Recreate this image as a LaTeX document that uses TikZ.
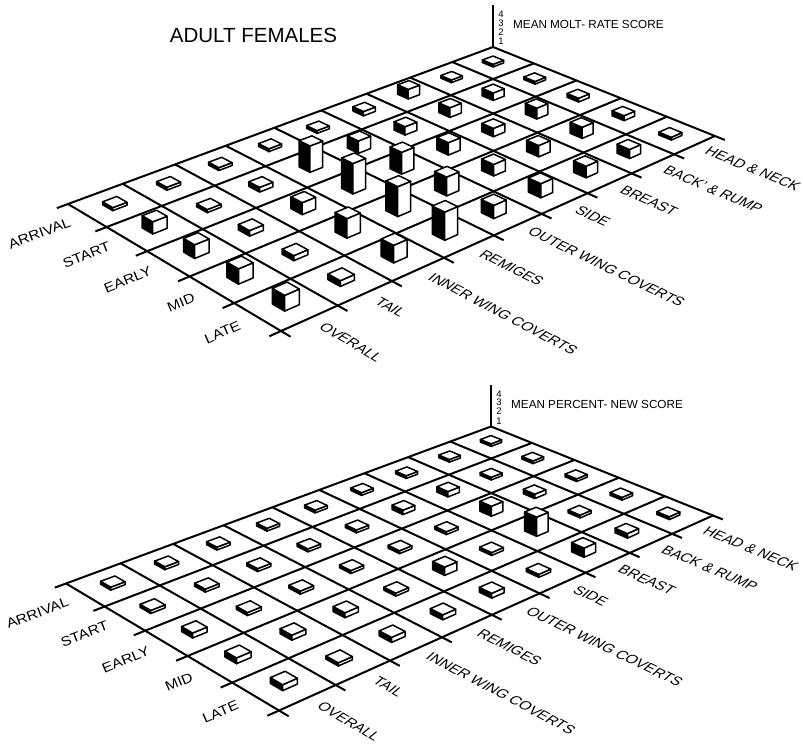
\documentclass[tikz,border=0pt]{standalone}
\usepackage{fontspec}
\setmainfont{Liberation Sans}
\usetikzlibrary{calc}

% grid corners in units of 100px, y pointing down
\def\Bx{4.93}\def\By{0.47}% back: head & neck / arrival
\def\Lx{0.68}\def\Ly{2.04}% left: overall / arrival
\def\Fx{2.81}\def\Fy{3.31}% front: overall / late
\def\Rx{7.15}\def\Ry{1.36}% right: head & neck / late

% perspective map of the unit square onto the grid
\pgfmathsetmacro\dxa{\Lx-\Fx}
\pgfmathsetmacro\dxb{\Rx-\Fx}
\pgfmathsetmacro\dxc{\Bx-\Lx+\Fx-\Rx}
\pgfmathsetmacro\dya{\Ly-\Fy}
\pgfmathsetmacro\dyb{\Ry-\Fy}
\pgfmathsetmacro\dyc{\By-\Ly+\Fy-\Ry}
\pgfmathsetmacro\hmden{\dxa*\dyb-\dya*\dxb}
\pgfmathsetmacro\hmG{(\dxc*\dyb-\dyc*\dxb)/\hmden}
\pgfmathsetmacro\hmH{(\dxa*\dyc-\dya*\dxc)/\hmden}
\pgfmathsetmacro\hmA{\Lx-\Bx+\hmG*\Lx}
\pgfmathsetmacro\hmB{\Rx-\Bx+\hmH*\Rx}
\pgfmathsetmacro\hmD{\Ly-\By+\hmG*\Ly}
\pgfmathsetmacro\hmE{\Ry-\By+\hmH*\Ry}

\def\bs{0.13}% half size of a bar base

\tikzset{
  gridline/.style={line width=2pt},
  barface/.style={line width=1.5pt, line join=round, fill=white},
  rowlabel/.style={anchor=east, inner sep=0pt, xscale=1.15, font=\fontsize{13.5}{14}\selectfont},
  collabel/.style={anchor=west, inner sep=0pt, xscale=1.08, xslant=0.35, font=\fontsize{13.5}{14}\selectfont},
  axislabel/.style={anchor=west, inner sep=0pt, font=\fontsize{11.7}{13}\selectfont},
  axisdigit/.style={inner sep=0pt, font=\fontsize{9.5}{10}\selectfont}
}

% point of the grid: name, column u (0..9), row v (0..5), height in px
\newcommand\gridpt[4]{%
  \pgfmathsetmacro\gpu{(#2)/9}%
  \pgfmathsetmacro\gpv{(#3)/5}%
  \pgfmathsetmacro\gpw{1+\hmG*\gpu+\hmH*\gpv}%
  \pgfmathsetmacro\gpx{(\hmA*\gpu+\hmB*\gpv+\Bx)/\gpw}%
  \pgfmathsetmacro\gpy{(\hmD*\gpu+\hmE*\gpv+\By-(#4)/100)/\gpw}%
  \coordinate (#1) at (\gpx,\gpy);%
}

% one bar: column, row, height
\newcommand\moltbar[3]{%
  \gridpt{ba}{#1-0.5+\bs}{#2-0.5-\bs}{0}
  \gridpt{bb}{#1-0.5+\bs}{#2-0.5+\bs}{0}
  \gridpt{bc}{#1-0.5-\bs}{#2-0.5+\bs}{0}
  \gridpt{ta}{#1-0.5+\bs}{#2-0.5-\bs}{#3}
  \gridpt{tb}{#1-0.5+\bs}{#2-0.5+\bs}{#3}
  \gridpt{tc}{#1-0.5-\bs}{#2-0.5+\bs}{#3}
  \gridpt{td}{#1-0.5-\bs}{#2-0.5-\bs}{#3}
  \draw[barface, fill=black] (ba) -- (bb) -- (tb) -- (ta) -- cycle;
  \draw[barface] (bb) -- (bc) -- (tc) -- (tb) -- cycle;
  \draw[barface] (ta) -- (tb) -- (tc) -- (td) -- cycle;
}

% whole chart: axis title, back & rump label, heights per column
\newcommand\moltchart[3]{%
  % grid with ticks on the front edges
  \foreach \rw in {0,...,5}{
    \gridpt{ra}{0}{\rw}{0}
    \gridpt{rb}{9.2}{\rw}{0}
    \draw[gridline] (ra) -- (rb);
  }
  \foreach \col in {0,...,9}{
    \gridpt{ca}{\col}{0}{0}
    \gridpt{cb}{\col}{5.2}{0}
    \draw[gridline] (ca) -- (cb);
  }
  % score axis
  \gridpt{axbase}{0}{0}{0}
  \gridpt{axtop}{0}{0}{42}
  \draw[gridline] (axbase) -- (axtop);
  \foreach \d/\dz in {1/5.5,2/15,3/24,4/32.5}
    \node[axisdigit] at ($(axbase)+(0.08,-\dz/100)$) {\d};
  \node[axislabel] (axtitle) at ($(axbase)+(0.2,-0.225)$) {#1};
  % labels
  \foreach \txt [count=\rw] in {ARRIVAL,START,EARLY,MID,LATE}{
    \gridpt{la}{0}{\rw-0.5}{0}
    \gridpt{lb}{9.3}{\rw-0.5}{0}
    \path let \p1=($(la)-(lb)$), \n1={atan2(\y1,\x1)} in
      node[rotate=\n1, rowlabel] at (lb) {\txt};
  }
  \foreach \txt [count=\col] in {HEAD \& NECK,#2,BREAST,SIDE,OUTER WING COVERTS,REMIGES,INNER WING COVERTS,TAIL,OVERALL}{
    \gridpt{la}{\col-0.5}{0}{0}
    \gridpt{lb}{\col-0.5}{5.25}{0}
    \path let \p1=($(lb)-(la)$), \n1={atan2(\y1,\x1)} in
      node[rotate=\n1, collabel] at (lb) {\txt};
  }
  % bars, back to front
  \foreach \col/\hts in {#3}{
    \foreach \h [count=\rw] in \hts {\moltbar{\col}{\rw}{\h}}
  }
}

\begin{document}
\begin{tikzpicture}[x=100pt,y=-100pt]
\useasboundingbox (0,0) rectangle (8.03,7.5);

\node[font=\fontsize{20.5}{24}\selectfont] (title) at (2.535,0.355) {ADULT FEMALES};

% molt rate
\moltchart{MEAN MOLT- RATE SCORE}{BACK' \& RUMP}{%
  1/{2.5,2.5,3.5,4.5,2.5}, 2/{2.5,7,10,10,8}, 3/{9,9,7.5,10,10},
  4/{4,7.5,11,10,12}, 5/{2.5,11,19,16,11}, 6/{2.5,23,26,25,23},
  7/{2.5,4,10,16,14}, 8/{2.5,2.5,4.5,4,4.5}, 9/{2.5,10,11,12,12}}

% percent new
\begin{scope}[shift={(-0.02,3.795)}]
\moltchart{MEAN PERCENT- NEW SCORE}{BACK \& RUMP}{%
  1/{2.5,2.5,2.5,2.5,2.5}, 2/{2.5,2.5,4,2.5,4}, 3/{2.5,5,9,17,8},
  4/{2.5,4,2.5,2.5,2.5}, 5/{2.5,2.5,2.5,7,4}, 6/{2.5,2.5,2.5,2.5,4},
  7/{2.5,2.5,2.5,4,4}, 8/{2.5,2.5,2.5,4,2.5}, 9/{2.5,2.5,4,4.5,4.5}}
\end{scope}
\end{tikzpicture}
\end{document}
